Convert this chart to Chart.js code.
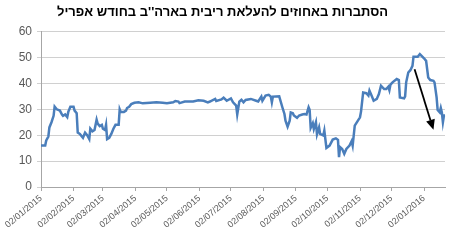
<!DOCTYPE html>
<html><head><meta charset="utf-8">
<script src="https://cdn.jsdelivr.net/npm/chart.js@4/dist/chart.umd.min.js"></script>
<style>html,body{margin:0;padding:0;background:#fff}#w{width:458px;height:248px}</style>
</head><body><div id="w"><canvas id="c"></canvas></div>
<script>
const titleText = "הסתברות באחוזים להעלאת ריבית בארה''ב בחודש אפריל";
const dates = ["2015-01-02","2015-01-06","2015-01-07","2015-01-09","2015-01-10","2015-01-12","2015-01-14","2015-01-15","2015-01-17","2015-01-20","2015-01-22","2015-01-23","2015-01-25","2015-01-27","2015-01-28","2015-01-30",
"2015-02-02","2015-02-03","2015-02-05","2015-02-06","2015-02-08","2015-02-11","2015-02-13","2015-02-15","2015-02-17","2015-02-18","2015-02-20","2015-02-22","2015-02-24","2015-02-25","2015-02-27",
"2015-03-01","2015-03-02","2015-03-04","2015-03-05","2015-03-06","2015-03-08","2015-03-10","2015-03-12","2015-03-14","2015-03-17","2015-03-18","2015-03-19","2015-03-22","2015-03-24","2015-03-25","2015-03-27","2015-03-29",
"2015-04-01","2015-04-05","2015-04-09","2015-04-16","2015-04-22","2015-04-28",
"2015-05-02","2015-05-08","2015-05-10","2015-05-13","2015-05-14","2015-05-19","2015-05-27",
"2015-06-01","2015-06-06","2015-06-10","2015-06-12","2015-06-17","2015-06-18","2015-06-23","2015-06-25","2015-06-28",
"2015-07-02","2015-07-04","2015-07-07","2015-07-08","2015-07-10","2015-07-12","2015-07-14","2015-07-16","2015-07-21","2015-07-26","2015-07-28","2015-07-31",
"2015-08-01","2015-08-04","2015-08-07","2015-08-09","2015-08-10","2015-08-11","2015-08-17","2015-08-20","2015-08-22","2015-08-23","2015-08-25","2015-08-27","2015-08-28","2015-08-30","2015-08-31",
"2015-09-03","2015-09-05","2015-09-08","2015-09-10","2015-09-12","2015-09-14","2015-09-15","2015-09-16","2015-09-18","2015-09-19","2015-09-21","2015-09-22","2015-09-24","2015-09-25","2015-09-28","2015-09-29",
"2015-10-01","2015-10-04","2015-10-07","2015-10-10","2015-10-12","2015-10-13","2015-10-14","2015-10-16","2015-10-18","2015-10-20","2015-10-23","2015-10-25","2015-10-26","2015-10-28","2015-10-31",
"2015-11-02","2015-11-03","2015-11-05","2015-11-08","2015-11-10","2015-11-11","2015-11-13","2015-11-15","2015-11-18","2015-11-20","2015-11-22","2015-11-25","2015-11-27","2015-11-29","2015-11-30",
"2015-12-01","2015-12-03","2015-12-07","2015-12-09","2015-12-10","2015-12-14","2015-12-15","2015-12-16","2015-12-18","2015-12-20","2015-12-22","2015-12-23","2015-12-27","2015-12-29","2015-12-30",
"2016-01-02","2016-01-04","2016-01-06","2016-01-08","2016-01-11","2016-01-12","2016-01-14","2016-01-15","2016-01-17","2016-01-18","2016-01-19","2016-01-20","2016-01-21","2016-01-22"];
const values = [16,16,18,19.5,23,25,27.5,31,30,29.5,28,27.5,28,27,29,31,
31,29.5,28.5,21,20.5,19,21,20,18.5,22.5,21.5,22,26,24.5,23.5,
24,22.5,22,24,18.5,19,20.5,22.5,24,24,30,29,29,29.5,30.5,31,32,
32.5,32.7,32.3,32.5,32.7,32.5,
32.3,32.7,33.2,33,32.4,33,33,
33.5,33.3,32.7,33,34,33.2,33.8,34.5,33.3,
34.2,32.7,31.4,28,33,33.7,32.7,33.6,34,33.3,33,34.9,
33.3,35.3,35.6,34.9,32.7,34.9,35,30.8,28.2,25.6,23.3,25.6,28.8,28.5,27.6,
26.7,27.6,28,28.2,28,30.8,29.8,22.8,24.6,22.4,25,20.3,23,20.5,19.9,21.8,
15.1,16,18.3,18.8,18.2,11.5,15.4,14.7,12.8,14.7,16,17.7,16,23.7,25.6,
26.9,29.2,36.5,36.2,35.3,37.2,35.3,33.3,34,35.9,39.1,37.8,37.8,38.7,37.4,
39.5,40.4,41.7,41.3,34.6,34.2,35,40.4,44.2,45.1,46.8,50.3,50.3,51.3,50.9,
49.7,48.7,42.3,41.3,41,40.4,34.6,29.7,28.8,30.5,28.8,25,27.6,27.6];
const tickDates = ["2015-01-02","2015-02-02","2015-03-02","2015-04-02","2015-05-02","2015-06-02","2015-07-02","2015-08-02","2015-09-02","2015-10-02","2015-11-02","2015-12-02","2016-01-02"];
const yTicks = [0,10,20,30,40,50,60];
// arrow annotation: [date, value] start and end
const arrowFrom = ["2015-12-24", 45.5];
const arrowTo = ["2016-01-11", 22.1];

const base = Date.UTC(2015,0,2);
const dayOf = s => { const p = s.split('-').map(Number); return (Date.UTC(p[0],p[1]-1,p[2]) - base)/86400000; };
const fmt = s => { const p = s.split('-'); return p[2]+'/'+p[1]+'/'+p[0]; };
const pts = dates.map((d,i)=>({x:dayOf(d), y:values[i]}));
const tickVals = tickDates.map(dayOf);
const tickMap = {}; tickDates.forEach(d=>tickMap[dayOf(d)]=fmt(d));

const arrowPlugin = {
  id:'arrow',
  afterDatasetsDraw(chart){
    const {ctx, scales:{x,y}} = chart;
    const x1=x.getPixelForValue(dayOf(arrowFrom[0])), y1=y.getPixelForValue(arrowFrom[1]);
    const x2=x.getPixelForValue(dayOf(arrowTo[0])), y2=y.getPixelForValue(arrowTo[1]);
    const ang=Math.atan2(y2-y1,x2-x1), hl=10, hw=4.5;
    const bx=x2-hl*Math.cos(ang), by=y2-hl*Math.sin(ang);
    ctx.save();
    ctx.strokeStyle='#000'; ctx.fillStyle='#000'; ctx.lineWidth=1.8;
    ctx.beginPath(); ctx.moveTo(x1,y1); ctx.lineTo(bx,by); ctx.stroke();
    ctx.beginPath(); ctx.moveTo(x2,y2);
    ctx.lineTo(bx+hw*Math.sin(ang), by-hw*Math.cos(ang));
    ctx.lineTo(bx-hw*Math.sin(ang), by+hw*Math.cos(ang));
    ctx.closePath(); ctx.fill();
    ctx.restore();
  }
};

new Chart(document.getElementById('c'), {
  type:'line',
  data:{datasets:[{data:pts, borderColor:'#4A7EBB', borderWidth:2.5, pointRadius:0, tension:0, fill:false, clip:false}]},
  options:{
    responsive:true, maintainAspectRatio:false, animation:false,
    layout:{padding:{left:0,right:13,top:0,bottom:0}},
    plugins:{
      legend:{display:false}, tooltip:{enabled:false},
      title:{display:true, text:titleText, color:'#000', font:{family:"'Liberation Sans', Arial, sans-serif", size:13, weight:'bold'}, padding:{top:5,bottom:11}}
    },
    scales:{
      x:{type:'linear', min:0, max:dayOf(dates[dates.length-1]),
        afterBuildTicks(s){ s.ticks = tickVals.map(v=>({value:v})); },
        afterFit(s){ s.height = 61; },
        ticks:{autoSkip:false, minRotation:40, maxRotation:40, color:'#595959', padding:2,
          font:{family:"'Liberation Sans', Arial, sans-serif", size:9},
          callback:v=>tickMap[v]||''},
        grid:{drawOnChartArea:false, drawTicks:true, tickLength:4, color:'#a6a6a6'},
        border:{color:'#a6a6a6'}},
      y:{min:0, max:60,
        afterBuildTicks(s){ s.ticks = yTicks.map(v=>({value:v})); },
        afterFit(s){ s.width = 41; },
        ticks:{color:'#595959', padding:5, font:{family:"'Liberation Sans', Arial, sans-serif", size:12}},
        grid:{color:'#d0d0d0', tickLength:4, lineWidth:1},
        border:{color:'#a6a6a6'}}
    }
  },
  plugins:[arrowPlugin]
});
</script></body></html>
